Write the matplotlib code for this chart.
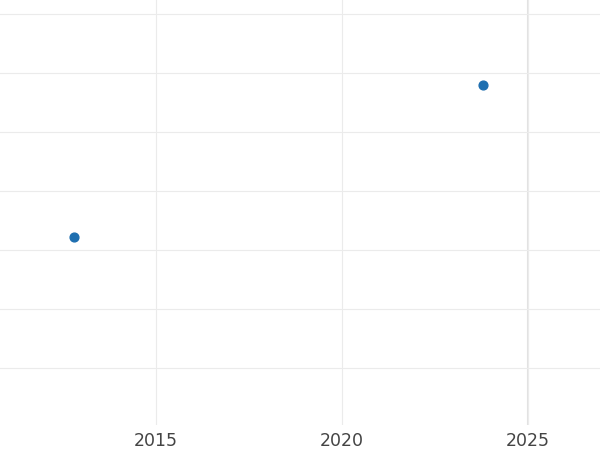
import matplotlib
matplotlib.use("Agg")
import matplotlib.pyplot as plt

years = [2012.8, 2023.79]
values = [3.22, 5.8]
xticks = [2015, 2020, 2025]
yticks = [1, 2, 3, 4, 5, 6, 7]

fig = plt.figure(figsize=(6, 4.5), dpi=100)
ax = fig.add_axes([0, 25/450, 1, 425/450])
ax.scatter(years, values, s=40, color="#1f6fb0", zorder=3)
ax.set_xlim(2010.81, 2026.94)
ax.set_ylim(0.034, 7.24)
ax.set_xticks(xticks)
ax.set_yticks(yticks)
ax.set_yticklabels([])
ax.grid(True, color="#ebebeb", linewidth=0.8)
ax.axvline(2025, color="#e2e2e2", linewidth=1.5, zorder=1)
ax.tick_params(length=0, labelsize=12.5, labelcolor="#444444", pad=5)
for s in ax.spines.values():
    s.set_visible(False)
fig.savefig("out.png", dpi=100)
